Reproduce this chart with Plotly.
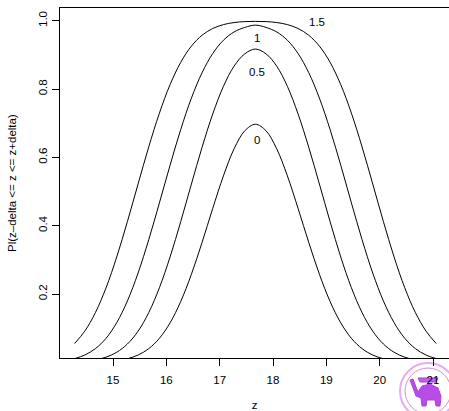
import plotly.graph_objects as go

# z grid (shared by all curves)
z = [14.28, 14.47, 14.67, 14.87, 15.07, 15.27, 15.47, 15.67, 15.87, 16.07,
     16.27, 16.47, 16.67, 16.87, 17.07, 17.27, 17.47, 17.67,
     17.87, 18.07, 18.27, 18.47, 18.67, 18.87, 19.07, 19.27, 19.47, 19.67,
     19.87, 20.07, 20.27, 20.47, 20.67, 20.87, 21.06]

# half profiles (from the tail up to the peak)
half_d0 = [0.0001, 0.0003, 0.0008, 0.0021, 0.0049, 0.0106, 0.0213, 0.0400, 0.0703,
           0.1156, 0.1782, 0.2579, 0.3512, 0.4506, 0.5457, 0.6249, 0.6776, 0.697]
half_d05 = [0.0014, 0.0032, 0.0073, 0.0151, 0.0295, 0.0536, 0.0912, 0.1456, 0.2184,
            0.3085, 0.4120, 0.5219, 0.6296, 0.7271, 0.8077, 0.8669, 0.9029, 0.917]
half_d1 = [0.0110, 0.0213, 0.0401, 0.0705, 0.1162, 0.1797, 0.2614, 0.3590, 0.4668,
           0.5771, 0.6816, 0.7734, 0.8479, 0.9040, 0.9427, 0.9671, 0.9803, 0.987]
half_d15 = [0.0551, 0.0912, 0.1456, 0.2184, 0.3085, 0.4121, 0.5222, 0.6306, 0.7294,
            0.8130, 0.8783, 0.9257, 0.9575, 0.9772, 0.9886, 0.9946, 0.9974, 0.9981]

series = {
    "0": half_d0 + half_d0[-2::-1],
    "0.5": half_d05 + half_d05[-2::-1],
    "1": half_d1 + half_d1[-2::-1],
    "1.5": half_d15 + half_d15[-2::-1],
}

label_x = [17.694, 17.694, 17.694, 18.819]
label_y = [0.651, 0.850, 0.949, 0.997]
label_txt = ["0", "0.5", "1", "1.5"]

x_ticks = [15, 16, 17, 18, 19, 20, 21]
y_ticks = [0.2, 0.4, 0.6, 0.8, 1.0]
y_ticktext = ["0.2", "0.4", "0.6", "0.8", "1.0"]

FONT = "Liberation Sans, Arial, Helvetica, sans-serif"

fig = go.Figure()
for name, vals in series.items():
    fig.add_trace(go.Scatter(x=z, y=vals, mode="lines", name=name,
                             line=dict(color="black", width=1, shape="spline"),
                             hoverinfo="skip"))

for tx, ty, tt in zip(label_x, label_y, label_txt):
    fig.add_annotation(x=tx, y=ty, text=tt, showarrow=False, xref="x", yref="y",
                       font=dict(family=FONT, size=11.5, color="black"))

# y-axis title placed as a rotated annotation
fig.add_annotation(x=(12 - 60) / 389.0, y=0.5, xref="paper", yref="paper",
                   text="Pl(z\u2013delta <= z <= z+delta)", textangle=-90,
                   showarrow=False, xanchor="center", yanchor="middle",
                   font=dict(family=FONT, size=11.5, color="black"))

# seal/emblem in the bottom-right corner (rough approximation)
def px2paper(px, py):
    return (px - 60) / 389.0, (358 - py) / 350.0

cx, cy, r = 428, 391, 28
for rr, col, w in [(r, "#e6aef0", 2), (r - 5, "#d08ee0", 1)]:
    x0, y0 = px2paper(cx - rr, cy + rr)
    x1, y1 = px2paper(cx + rr, cy - rr)
    fig.add_shape(type="circle", xref="paper", yref="paper", x0=x0, y0=y0, x1=x1, y1=y1,
                  line=dict(color=col, width=w), fillcolor="rgba(255,255,255,0)", layer="below")

eleph_px = [(418, 392), (422, 386), (430, 384), (438, 388), (441, 396), (440, 406),
            (436, 406), (435, 400), (427, 400), (426, 406), (422, 406), (421, 398),
            (416, 396), (413, 388), (410, 380), (413, 379), (416, 387)]
pts = [px2paper(a, b) for a, b in eleph_px]
path = "M " + " L ".join(f"{a:.4f},{b:.4f}" for a, b in pts) + " Z"
fig.add_shape(type="path", xref="paper", yref="paper", path=path,
              line=dict(color="#b040e0", width=1), fillcolor="#b94be6", layer="below")
crown_px = [(418, 378), (438, 378), (436, 382), (420, 382)]
pts = [px2paper(a, b) for a, b in crown_px]
path = "M " + " L ".join(f"{a:.4f},{b:.4f}" for a, b in pts) + " Z"
fig.add_shape(type="path", xref="paper", yref="paper", path=path,
              line=dict(color="#a040d8", width=1), fillcolor="#c060e8", layer="below")

fig.update_layout(
    width=449, height=411,
    margin=dict(l=60, r=0, t=8, b=53),
    plot_bgcolor="white", paper_bgcolor="white",
    showlegend=False,
    font=dict(family=FONT, size=11.5, color="black"),
    xaxis=dict(range=[14.006, 21.30], tickvals=x_ticks, ticks="outside", ticklen=7,
               tickcolor="black", tickwidth=1, showline=True, linecolor="black",
               linewidth=1, mirror=True, showgrid=False, zeroline=False,
               ticklabelstandoff=4,
               automargin=False, title=dict(text="z", standoff=20,
                                            font=dict(family=FONT, size=11.5))),
    yaxis=dict(range=[0.0127, 1.0372], tickvals=y_ticks, ticktext=y_ticktext,
               tickangle=-90, ticks="outside", ticklen=7, tickcolor="black",
               tickwidth=1, showline=True, linecolor="black", linewidth=1,
               showgrid=False, zeroline=False, automargin=False),
)

fig.write_html("out.html", config={"displayModeBar": False, "staticPlot": True})

# remove default page margin so the figure sits at the window's top-left corner
with open("out.html", "r", encoding="utf-8") as f:
    html = f.read()
html = html.replace("<head>", "<head><style>html,body{margin:0;padding:0;overflow:hidden;}</style>", 1)
with open("out.html", "w", encoding="utf-8") as f:
    f.write(html)
